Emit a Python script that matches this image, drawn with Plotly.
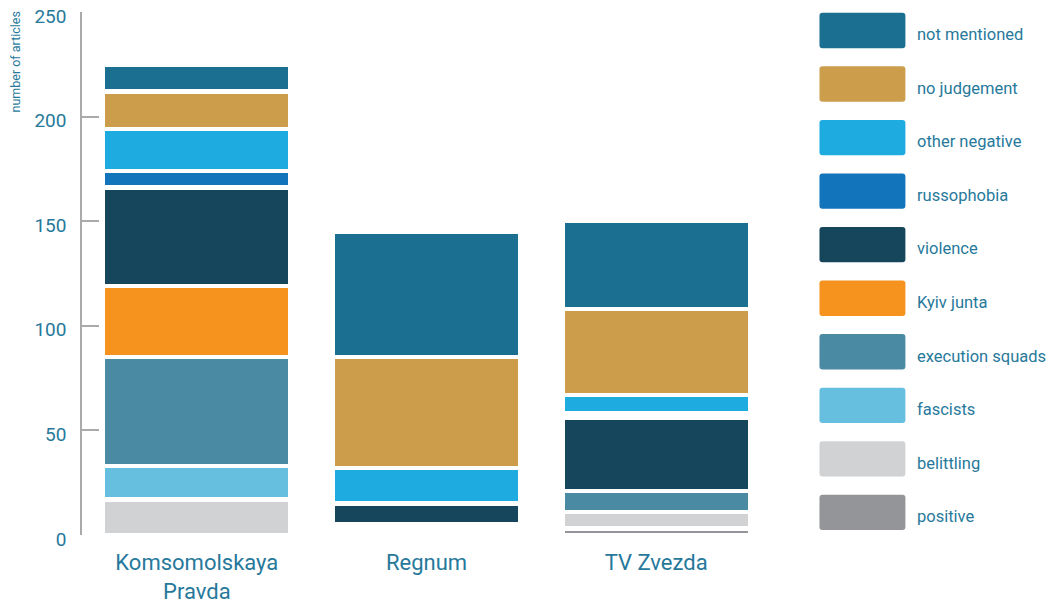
import plotly.graph_objects as go

# ── Data ───────────────────────────────────────────────────────────────────
CHANNELS = ["Komsomolskaya<br>Pravda", "Regnum", "TV Zvezda"]

# stacking order, bottom to top
CATEGORIES = [
    "positive", "belittling", "fascists", "execution squads", "Kyiv junta",
    "violence", "russophobia", "other negative", "no judgement", "not mentioned",
]

positive = [0, 1, 3]
belittling = [17, 2, 8]
fascists = [16, 1, 0]
execution_squads = [52, 1, 10]
kyiv_junta = [34, 0, 0]
violence = [47, 10, 35]
russophobia = [8, 0, 2]
other_negative = [20, 17, 9]
no_judgement = [18, 53, 41]
not_mentioned = [13, 60, 42]

SERIES = [positive, belittling, fascists, execution_squads, kyiv_junta,
          violence, russophobia, other_negative, no_judgement, not_mentioned]

COLORS = ["#939598", "#d1d2d4", "#67bfdf", "#4a8aa3", "#f6921e",
          "#16465b", "#1275bc", "#1eabdf", "#cc9e4c", "#1b6f91"]

Y_TICKS = [0, 50, 100, 150, 200, 250]

# ── Layout constants ───────────────────────────────────────────────────────
W, H = 1052, 604
L, R, T, B = 82, 280.5, 11.5, 69
PW, PH = W - L - R, H - T - B
FONT = "Roboto, Liberation Sans, sans-serif"
TEXT = "#27799b"


def px_x(p):
    return (p - L) / PW


def px_y(p):
    return (H - B - p) / PH


def rounded_rect(x0, y0, x1, y1, r=3):
    """SVG path in paper coords for a rounded rectangle given pixel box."""
    rx, ry = r / PW, r / PH
    a, b, c, d = px_x(x0), px_y(y1), px_x(x1), px_y(y0)  # left, bottom, right, top
    return (f"M{a + rx},{b} L{c - rx},{b} Q{c},{b} {c},{b + ry} "
            f"L{c},{d - ry} Q{c},{d} {c - rx},{d} L{a + rx},{d} "
            f"Q{a},{d} {a},{d - ry} L{a},{b + ry} Q{a},{b} {a + rx},{b} Z")


def font(size):
    return dict(family=FONT, size=size, color=TEXT)


fig = go.Figure()
for name, vals, col in zip(CATEGORIES, SERIES, COLORS):
    fig.add_trace(go.Bar(
        x=CHANNELS, y=vals, name=name,
        marker=dict(color=col, line=dict(color="white", width=4.5)),
        width=0.815, showlegend=False,
    ))

# custom legend: big rounded swatches, top to bottom
shapes, annotations = [], []
for i, (name, col) in enumerate(zip(CATEGORIES[::-1], COLORS[::-1])):
    top = 12.3 + i * 53.6
    shapes.append(dict(
        type="path", xref="paper", yref="paper",
        path=rounded_rect(820, top, 906, top + 35.4),
        fillcolor=col, line=dict(width=0), layer="above",
    ))
    annotations.append(dict(
        text=name, xref="paper", yref="paper",
        x=px_x(916), y=px_y(top + 22), xanchor="left", yanchor="middle",
        showarrow=False, font=font(16.5),
    ))

annotations.append(dict(
    text="number of articles", xref="paper", yref="paper",
    x=px_x(15), y=px_y(62), xanchor="center", yanchor="middle",
    textangle=-90, showarrow=False, font=font(12.5),
))

fig.update_layout(
    width=W, height=H,
    margin=dict(l=L, r=R, t=T, b=B),
    barmode="stack",
    paper_bgcolor="white", plot_bgcolor="white",
    font=font(14),
    shapes=shapes, annotations=annotations,
    xaxis=dict(
        range=[-0.5, 2.5], showline=False, showgrid=False, zeroline=False,
        ticks="", tickfont=font(22), ticklabelstandoff=12, automargin=False,
    ),
    yaxis=dict(
        range=[0, 250], tickvals=Y_TICKS, showgrid=False, zeroline=False,
        showline=True, linecolor="#aaaaaa", linewidth=1.5,
        ticks="inside", ticklen=17, tickcolor="#aaaaaa", tickwidth=1.5,
        tickfont=font(19), ticklabelstandoff=10, automargin=False,
        ticklabeloverflow="allow", ticklabelshift=4,
    ),
)

fig.write_html(
    "out.html",
    config={"displayModeBar": False},
    post_script="document.body.style.margin='0px';",
)
